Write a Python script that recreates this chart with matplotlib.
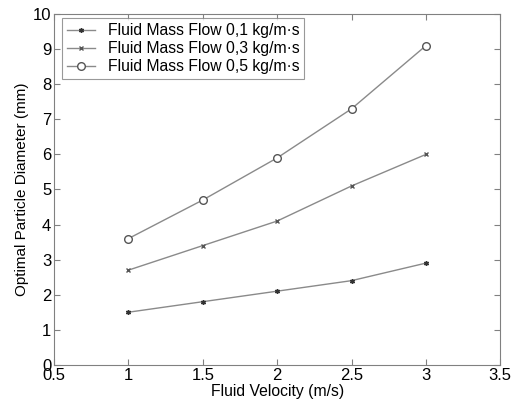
import numpy as np
import matplotlib.pyplot as plt

plt.rcParams['font.family'] = ['Liberation Sans', 'DejaVu Sans']

# Data
velocity = [1, 1.5, 2, 2.5, 3]
flow_01 = [1.5, 1.8, 2.1, 2.4, 2.9]
flow_03 = [2.7, 3.4, 4.1, 5.1, 6.0]
flow_05 = [3.6, 4.7, 5.9, 7.3, 9.1]
labels = ["Fluid Mass Flow 0,1 kg/m\u00b7s",
          "Fluid Mass Flow 0,3 kg/m\u00b7s",
          "Fluid Mass Flow 0,5 kg/m\u00b7s"]

fig = plt.figure(figsize=(5.2, 4.04), dpi=100)
ax = fig.add_axes([0.104, 0.097, 0.858, 0.868])

line_col = "#8a8a8a"
ax.plot(velocity, flow_01, color=line_col, lw=1, marker=(6, 2, 0), ms=3.5,
        mec="#333333", label=labels[0])
ax.plot(velocity, flow_03, color=line_col, lw=1, marker="x", ms=3.5,
        mec="#555555", label=labels[1])
ax.plot(velocity, flow_05, color=line_col, lw=1, marker="o", ms=5.5,
        mfc="white", mec="#555555", label=labels[2])

ax.set_xlim(0.5, 3.5)
ax.set_ylim(0, 10)
ax.set_xticks(np.arange(0.5, 3.6, 0.5))
ax.set_xticklabels(["0.5", "1", "1.5", "2", "2.5", "3", "3.5"])
ax.set_yticks(range(0, 11))
ax.tick_params(direction="in", top=True, right=True, labelsize=12,
               color="#808080", length=4, pad=2)
for s in ax.spines.values():
    s.set_color("#808080")

ax.set_xlabel("Fluid Velocity (m/s)", fontsize=11.3, labelpad=1)
ax.set_ylabel("Optimal Particle Diameter (mm)", fontsize=11, labelpad=3)

leg = ax.legend(loc="upper left", bbox_to_anchor=(0.018, 0.988),
                borderaxespad=0, fontsize=11.3, fancybox=False,
                handlelength=1.8, labelspacing=0.2, borderpad=0.3,
                handletextpad=0.8)
leg.get_frame().set_edgecolor("#808080")
leg.get_frame().set_linewidth(0.8)

fig.savefig("out.png", dpi=100)
